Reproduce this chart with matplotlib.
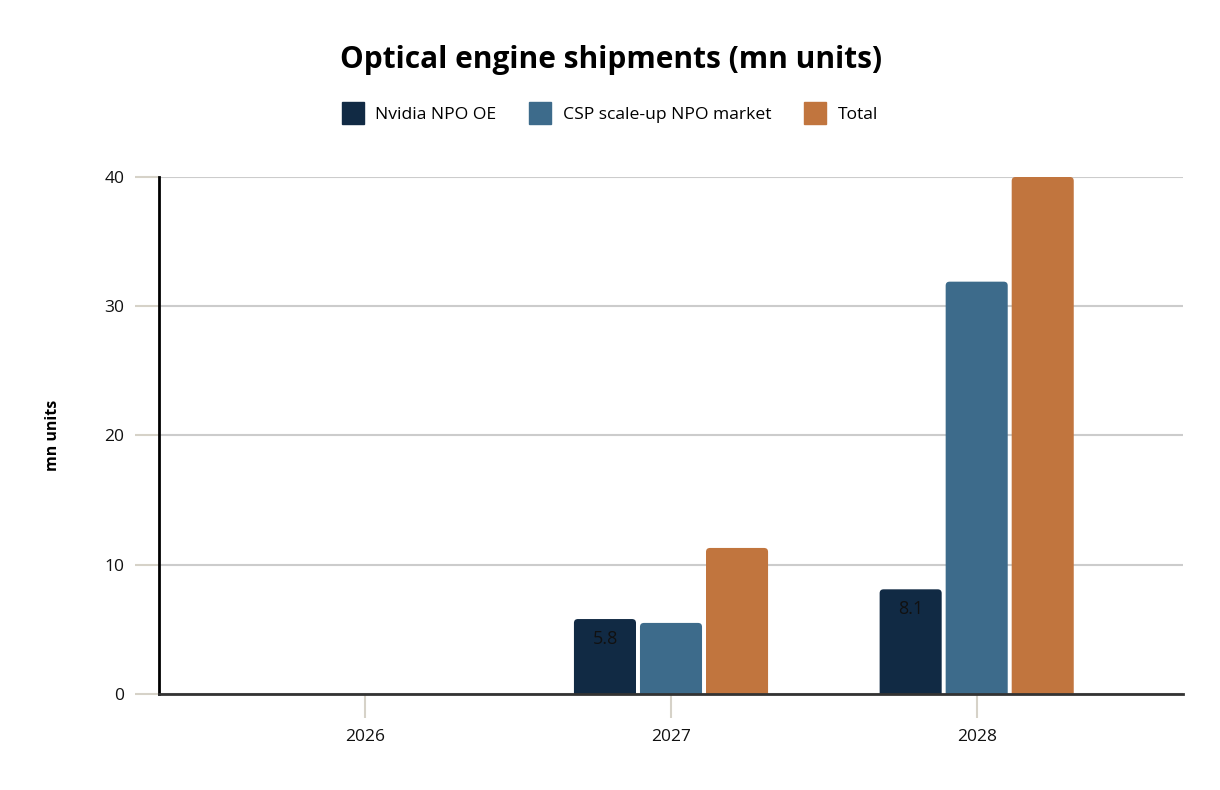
import matplotlib.pyplot as plt
import numpy as np
from matplotlib.patches import FancyBboxPatch
from matplotlib.lines import Line2D

years = ["2026", "2027", "2028"]
nvidia_npo = [0, 5.8, 8.1]
csp_npo = [0, 5.5, 31.9]
total = [0, 11.3, 40.0]

series_names = ["Nvidia NPO OE", "CSP scale-up NPO market", "Total"]
colors = ["#112a44", "#3d6b8b", "#c1753e"]
bar_labels = [["", "5.8", "8.1"], None, None]

plt.rcParams["font.family"] = ["Open Sans", "DejaVu Sans"]

fig = plt.figure(figsize=(12.2, 7.9), dpi=100)
ax = fig.add_axes([0.1303, 0.1215, 0.8394, 0.6545])

x = np.arange(len(years))
width = 0.203
step = 0.216
all_series = [nvidia_npo, csp_npo, total]

ax.set_xlim(-0.675, 2.675)
ax.set_ylim(0, 40)

for i, (vals, col) in enumerate(zip(all_series, colors)):
    bars = ax.bar(x + (i - 1) * step, vals, width, color=col, zorder=3)
    for b in bars:
        b.remove()
        h = b.get_height()
        if h <= 0:
            continue
        # extend below zero so only the top corners look rounded
        fb = FancyBboxPatch((b.get_x(), -1), b.get_width(), h + 1,
                            boxstyle="round,pad=0,rounding_size=0.013",
                            mutation_aspect=23.5,
                            facecolor=col, edgecolor="none", zorder=3)
        ax.add_patch(fb)
    if bar_labels[i] is not None:
        for xi, v, lab in zip(x + (i - 1) * step, vals, bar_labels[i]):
            if lab:
                ax.text(xi, v - 0.85, lab, ha="center", va="top",
                        fontsize=13, color="#111111", zorder=4)

ax.set_xticks(x)
ax.set_xticklabels(years)
ax.set_yticks([0, 10, 20, 30, 40])
ax.tick_params(axis="both", length=17, width=1.5, color="#d6d2c8",
               labelsize=12.5, labelcolor="#111111", pad=8)
ax.grid(axis="y", color="#cccccc", linewidth=1.5, zorder=0)

for s in ["top", "right"]:
    ax.spines[s].set_visible(False)
ax.spines["left"].set_color("#000000")
ax.spines["left"].set_linewidth(2)
ax.spines["bottom"].set_color("#333333")
ax.spines["bottom"].set_linewidth(2)
ax.spines["left"].set_zorder(5)
ax.spines["bottom"].set_zorder(5)

ax.set_ylabel("mn units", fontsize=11.5, fontweight="bold", labelpad=31)

fig.text(0.501, 0.924, "Optical engine shipments (mn units)",
         ha="center", va="center", fontsize=21.5, fontweight="bold")

handles = [Line2D([0], [0], marker="s", linestyle="none", markersize=16,
                  markerfacecolor=c, markeredgecolor=c) for c in colors]
fig.legend(handles, series_names, loc="center", bbox_to_anchor=(0.501, 0.854),
           ncol=3, frameon=False, fontsize=12.6, handlelength=1.0,
           handletextpad=0.8, columnspacing=2.0)

fig.savefig("out.png", dpi=100)
